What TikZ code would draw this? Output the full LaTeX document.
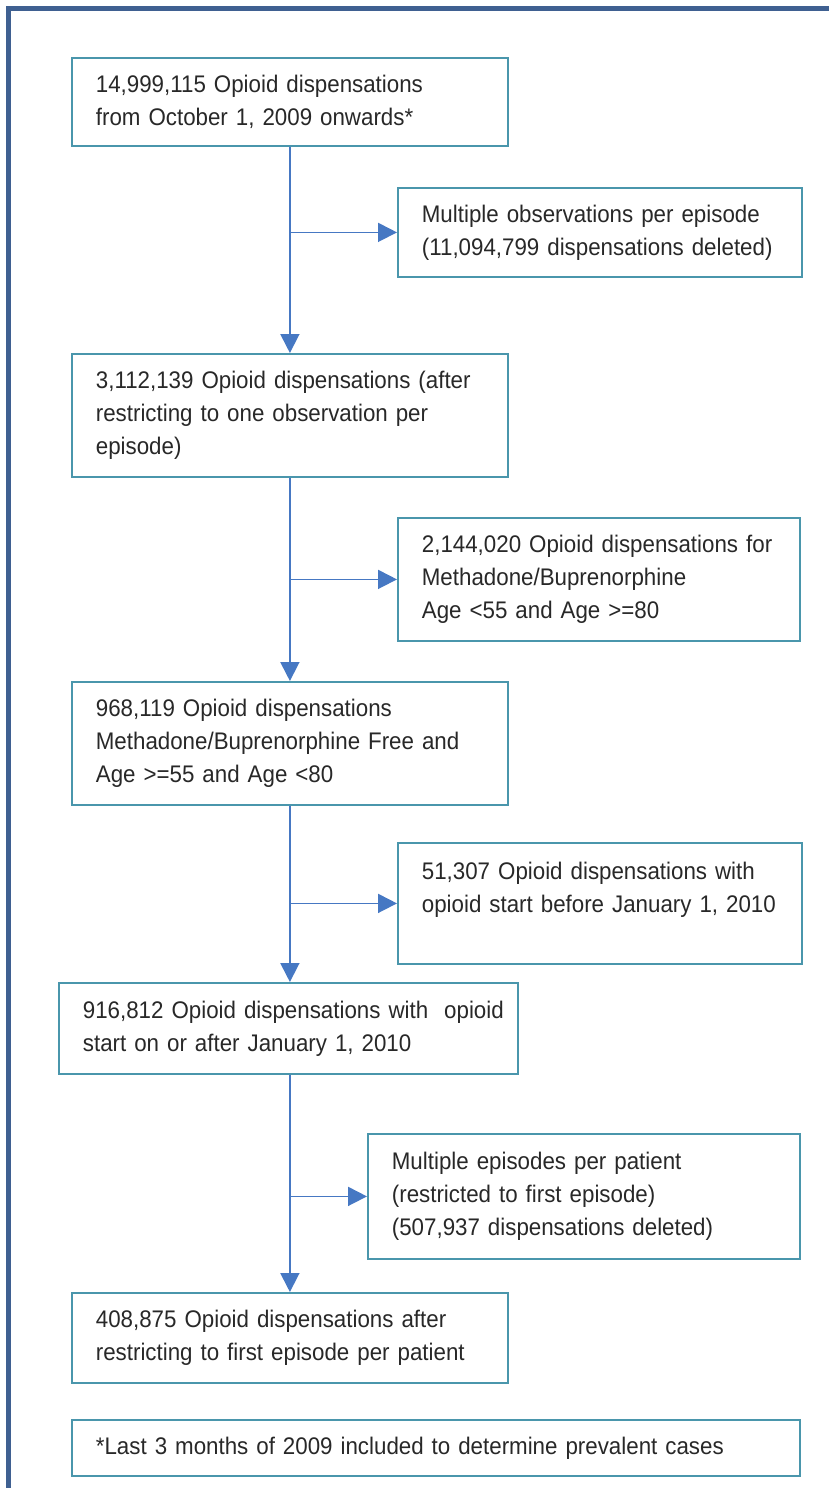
\documentclass[tikz,border=0pt]{standalone}
\usepackage{fontspec}
\setmainfont{Liberation Sans}[FakeStretch=0.93]
\usetikzlibrary{arrows.meta}
\definecolor{framec}{RGB}{63,96,145}
\definecolor{boxc}{RGB}{74,150,172}
\definecolor{arrc}{RGB}{70,120,195}
\definecolor{txtc}{RGB}{40,40,40}
\tikzset{
  fbox/.style={draw=boxc, line width=1.8pt, fill=white, anchor=north west,
    align=left, inner xsep=24pt, inner ysep=0pt, text=txtc,
    font=\fontsize{24}{33}\selectfont},
  arr/.style={draw=arrc, line width=1.8pt, -{Triangle[length=19pt,width=19pt]}},
}
\begin{document}
\begin{tikzpicture}[x=1pt,y=-1pt]
\useasboundingbox (0,0) rectangle (828,1488);
\draw[framec, line width=5pt] (8.5,1495) -- (8.5,9) -- (835,9);

\node[fbox, text width=388pt, minimum height=88pt] (b1) at (71,57)
  {14,999,115 Opioid dispensations\\from October 1, 2009 onwards*};
\node[fbox, text width=356pt, minimum height=89pt] (e1) at (397,187)
  {Multiple observations per episode\\(11,094,799 dispensations deleted)};
\node[fbox, text width=388pt, minimum height=123pt] (b2) at (71,353)
  {3,112,139 Opioid dispensations (after\\restricting to one observation per\\episode)};
\node[fbox, text width=354pt, minimum height=123pt] (e2) at (397,517)
  {2,144,020 Opioid dispensations for\\Methadone/Buprenorphine\\Age <55 and Age >=80};
\node[fbox, text width=388pt, minimum height=123pt] (b3) at (71,681)
  {968,119 Opioid dispensations\\Methadone/Buprenorphine Free and\\Age >=55 and Age <80};
\node[fbox, text width=356pt, minimum height=121pt] (e3) at (397,842)
  {51,307 Opioid dispensations with\\opioid start before January 1, 2010\\\mbox{}};
\node[fbox, text width=411pt, minimum height=91pt] (b4) at (58,982)
  {\mbox{916,812 Opioid dispensations with\ \ opioid}\\start on or after January 1, 2010};
\node[fbox, text width=384pt, minimum height=125pt] (e4) at (367,1133)
  {Multiple episodes per patient\\(restricted to first episode)\\(507,937 dispensations deleted)};
\node[fbox, text width=388pt, minimum height=90pt] (b5) at (71,1292)
  {408,875 Opioid dispensations after\\restricting to first episode per patient};
\node[fbox, text width=680pt, minimum height=56pt] (fn) at (71,1419)
  {*Last 3 months of 2009 included to determine prevalent cases};

\draw[arr] (b1.south) -- (b2.north);
\draw[arr] (e1.west -| b1.south) -- (e1.west);
\draw[arr] (b2.south) -- (b3.north);
\draw[arr] (e2.west -| b2.south) -- (e2.west);
\draw[arr] (b3.south) -- (b3.south |- b4.north);
\draw[arr] (e3.west -| b3.south) -- (e3.west);
\draw[arr] (b4.south -| b3.south) -- (b5.north);
\draw[arr] (e4.west -| b3.south) -- (e4.west);
\end{tikzpicture}
\end{document}
